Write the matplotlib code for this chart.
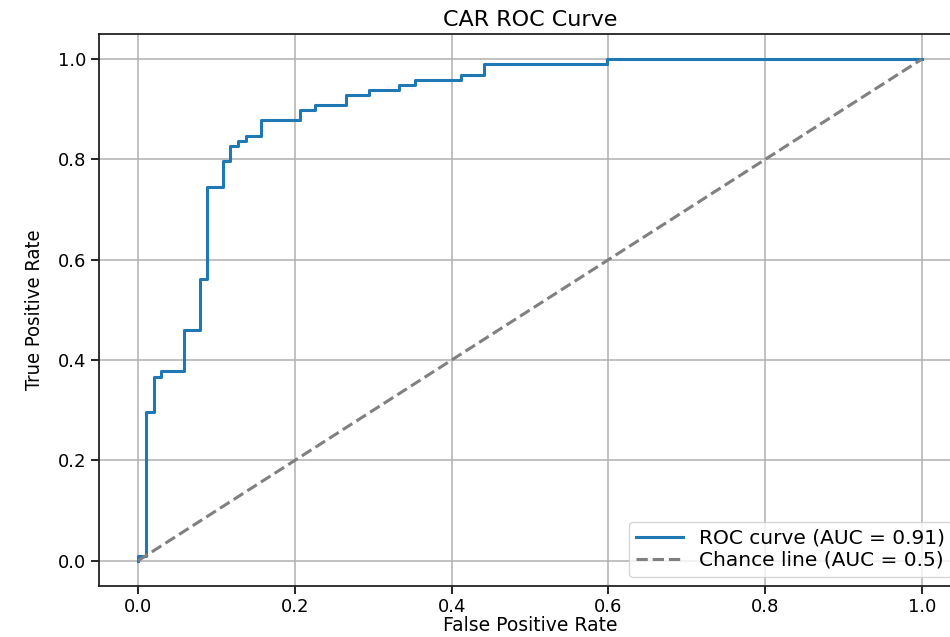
import matplotlib
matplotlib.use("Agg")
import matplotlib.pyplot as plt

# ROC curve corner points, steps drawn post-wise
fpr = [0.0, 0.0, 0.0098, 0.0196, 0.0294, 0.0588, 0.0784, 0.0882, 0.1078,
       0.1176, 0.1275, 0.1373, 0.1569, 0.2059, 0.2255, 0.2647, 0.2941,
       0.3333, 0.3529, 0.4118, 0.4412, 0.598, 1.0]
tpr = [0.0, 0.0102, 0.296, 0.367, 0.378, 0.459, 0.561, 0.745, 0.796,
       0.827, 0.837, 0.847, 0.878, 0.898, 0.908, 0.929, 0.939,
       0.949, 0.959, 0.969, 0.990, 1.0, 1.0]
chance = [0.0, 1.0]

roc_label = "ROC curve (AUC = 0.91)"
chance_label = "Chance line (AUC = 0.5)"
ticks = [0.0, 0.2, 0.4, 0.6, 0.8, 1.0]

fig = plt.figure(figsize=(9.5, 6.37), dpi=100)
# axes run a little past the right edge, like the cropped original
ax = fig.add_axes([0.1042, 0.0805, 0.9074, 0.866])

ax.plot(fpr, tpr, color="#1f77b4", lw=2.2, drawstyle="steps-post",
        label=roc_label)
ax.plot(chance, chance, color="gray", lw=2.2, linestyle="--",
        label=chance_label)

ax.set_xlim(-0.05, 1.05)
ax.set_ylim(-0.05, 1.05)
ax.set_xticks(ticks)
ax.set_yticks(ticks)
ax.grid(True, color="#b0b0b0", lw=1.1)
ax.tick_params(labelsize=13, length=6, width=1.2, pad=3)
for s in ax.spines.values():
    s.set_color("#222222")
    s.set_linewidth(1.3)

ax.set_title("CAR ROC Curve", fontsize=16, pad=6)
ax.set_xlabel("False Positive Rate", fontsize=13.5, labelpad=0)
ax.set_ylabel("True Positive Rate", fontsize=14.5, labelpad=10,
              family="DejaVu Sans", fontstretch="condensed")

ax.legend(loc="lower right", fontsize=14.5, handlelength=2.3,
          borderaxespad=0.45, labelspacing=0.15, borderpad=0.35)

fig.savefig("out.png", dpi=100)
